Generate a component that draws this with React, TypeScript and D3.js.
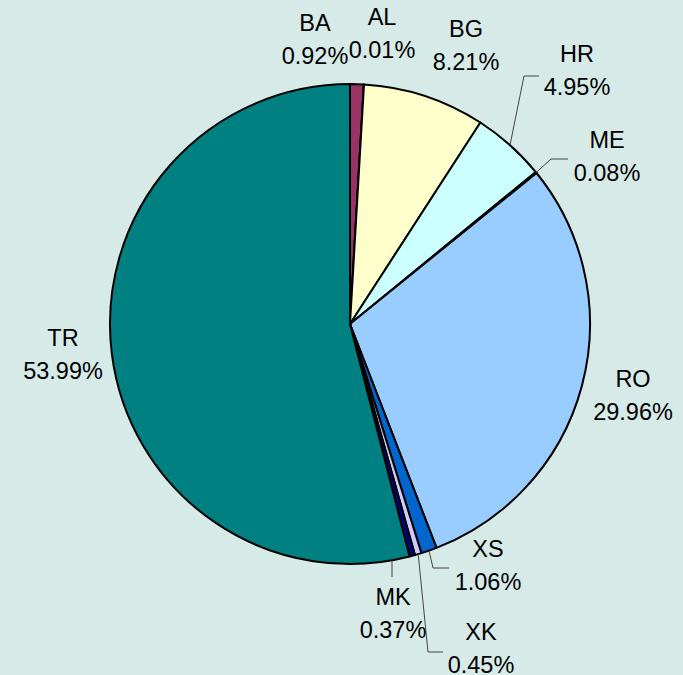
import { useEffect, useRef } from 'react';
import * as d3 from 'd3';

// chart data, clockwise from 12 o'clock
const countries = ['BA', 'AL', 'BG', 'HR', 'ME', 'RO', 'XS', 'XK', 'MK', 'TR'];
const shares = [0.92, 0.01, 8.21, 4.95, 0.08, 29.96, 1.06, 0.45, 0.37, 53.99];
const sliceColors = ['#993366', '#FF8080', '#FFFFCC', '#CCFFFF', '#660066', '#99CCFF', '#0066CC', '#CCCCFF', '#000080', '#008080'];

// label layout: centre x, baseline of first line
const labelLayout: Record<string, { x: number; y: number }> = {
  BA: { x: 315, y: 31 },
  AL: { x: 382, y: 25 },
  BG: { x: 466, y: 37 },
  HR: { x: 577, y: 62 },
  ME: { x: 607, y: 148 },
  RO: { x: 633, y: 387 },
  XS: { x: 488, y: 557 },
  XK: { x: 481, y: 640 },
  MK: { x: 393, y: 605 },
  TR: { x: 63, y: 346 },
};

// leader line elbows (after the point on the pie edge)
const leaders: Record<string, [number, number][]> = {
  HR: [[524, 76], [539, 76]],
  ME: [[551, 159], [568, 159]],
  XS: [[433, 568], [449, 568]],
  XK: [[428, 652], [443, 652]],
  MK: [[392, 577]],
};
// MK leader hangs straight down from the rim
const verticalLeader: Record<string, number> = { MK: 392 };

const W = 683;
const H = 675;
const cx = 350;
const cy = 324;
const R = 240;

const App = () => {
  const svgRef = useRef<SVGSVGElement>(null);

  useEffect(() => {
    const svg = d3.select(svgRef.current);
    svg.selectAll('*').remove();

    svg.append('rect').attr('width', W).attr('height', H).attr('fill', '#D6EBE8');

    const data = countries.map((c, i) => ({ name: c, value: shares[i], color: sliceColors[i] }));
    const pie = d3.pie<any>().value(d => d.value).sort(null);
    const arcs = pie(data);
    const arc = d3.arc<any>().innerRadius(0).outerRadius(R);

    const g = svg.append('g').attr('transform', `translate(${cx},${cy})`);
    g.selectAll('path.slice')
      .data(arcs)
      .enter()
      .append('path')
      .attr('class', 'slice')
      .attr('d', arc)
      .attr('fill', d => d.data.color)
      .attr('stroke', '#000')
      .attr('stroke-width', 2)
      .attr('stroke-linejoin', 'round');

    // leader lines
    arcs.forEach(a => {
      const pts = leaders[a.data.name];
      if (!pts) return;
      let start: [number, number];
      const vx = verticalLeader[a.data.name];
      if (vx !== undefined) {
        start = [vx, cy + Math.sqrt(R * R - (vx - cx) * (vx - cx)) + 1];
      } else {
        const mid = (a.startAngle + a.endAngle) / 2;
        start = [cx + R * Math.sin(mid), cy - R * Math.cos(mid)];
      }
      svg.append('path')
        .attr('d', d3.line()([start, ...pts]))
        .attr('fill', 'none')
        .attr('stroke', '#444')
        .attr('stroke-width', 1);
    });

    // labels
    arcs.forEach(a => {
      const pos = labelLayout[a.data.name];
      const t = svg.append('text')
        .attr('text-anchor', 'middle')
        .attr('font-family', 'Liberation Sans, Arial, sans-serif')
        .attr('font-size', 23.5)
        .attr('fill', '#000');
      t.append('tspan').attr('x', pos.x).attr('y', pos.y).text(a.data.name);
      t.append('tspan').attr('x', pos.x).attr('y', pos.y + 33).text(a.data.value.toFixed(2) + '%');
    });
  }, []);

  return (
    <svg ref={svgRef} width={W} height={H} style={{ display: 'block', position: 'absolute', left: 0, top: 0 }}></svg>
  );
};

export default App;
